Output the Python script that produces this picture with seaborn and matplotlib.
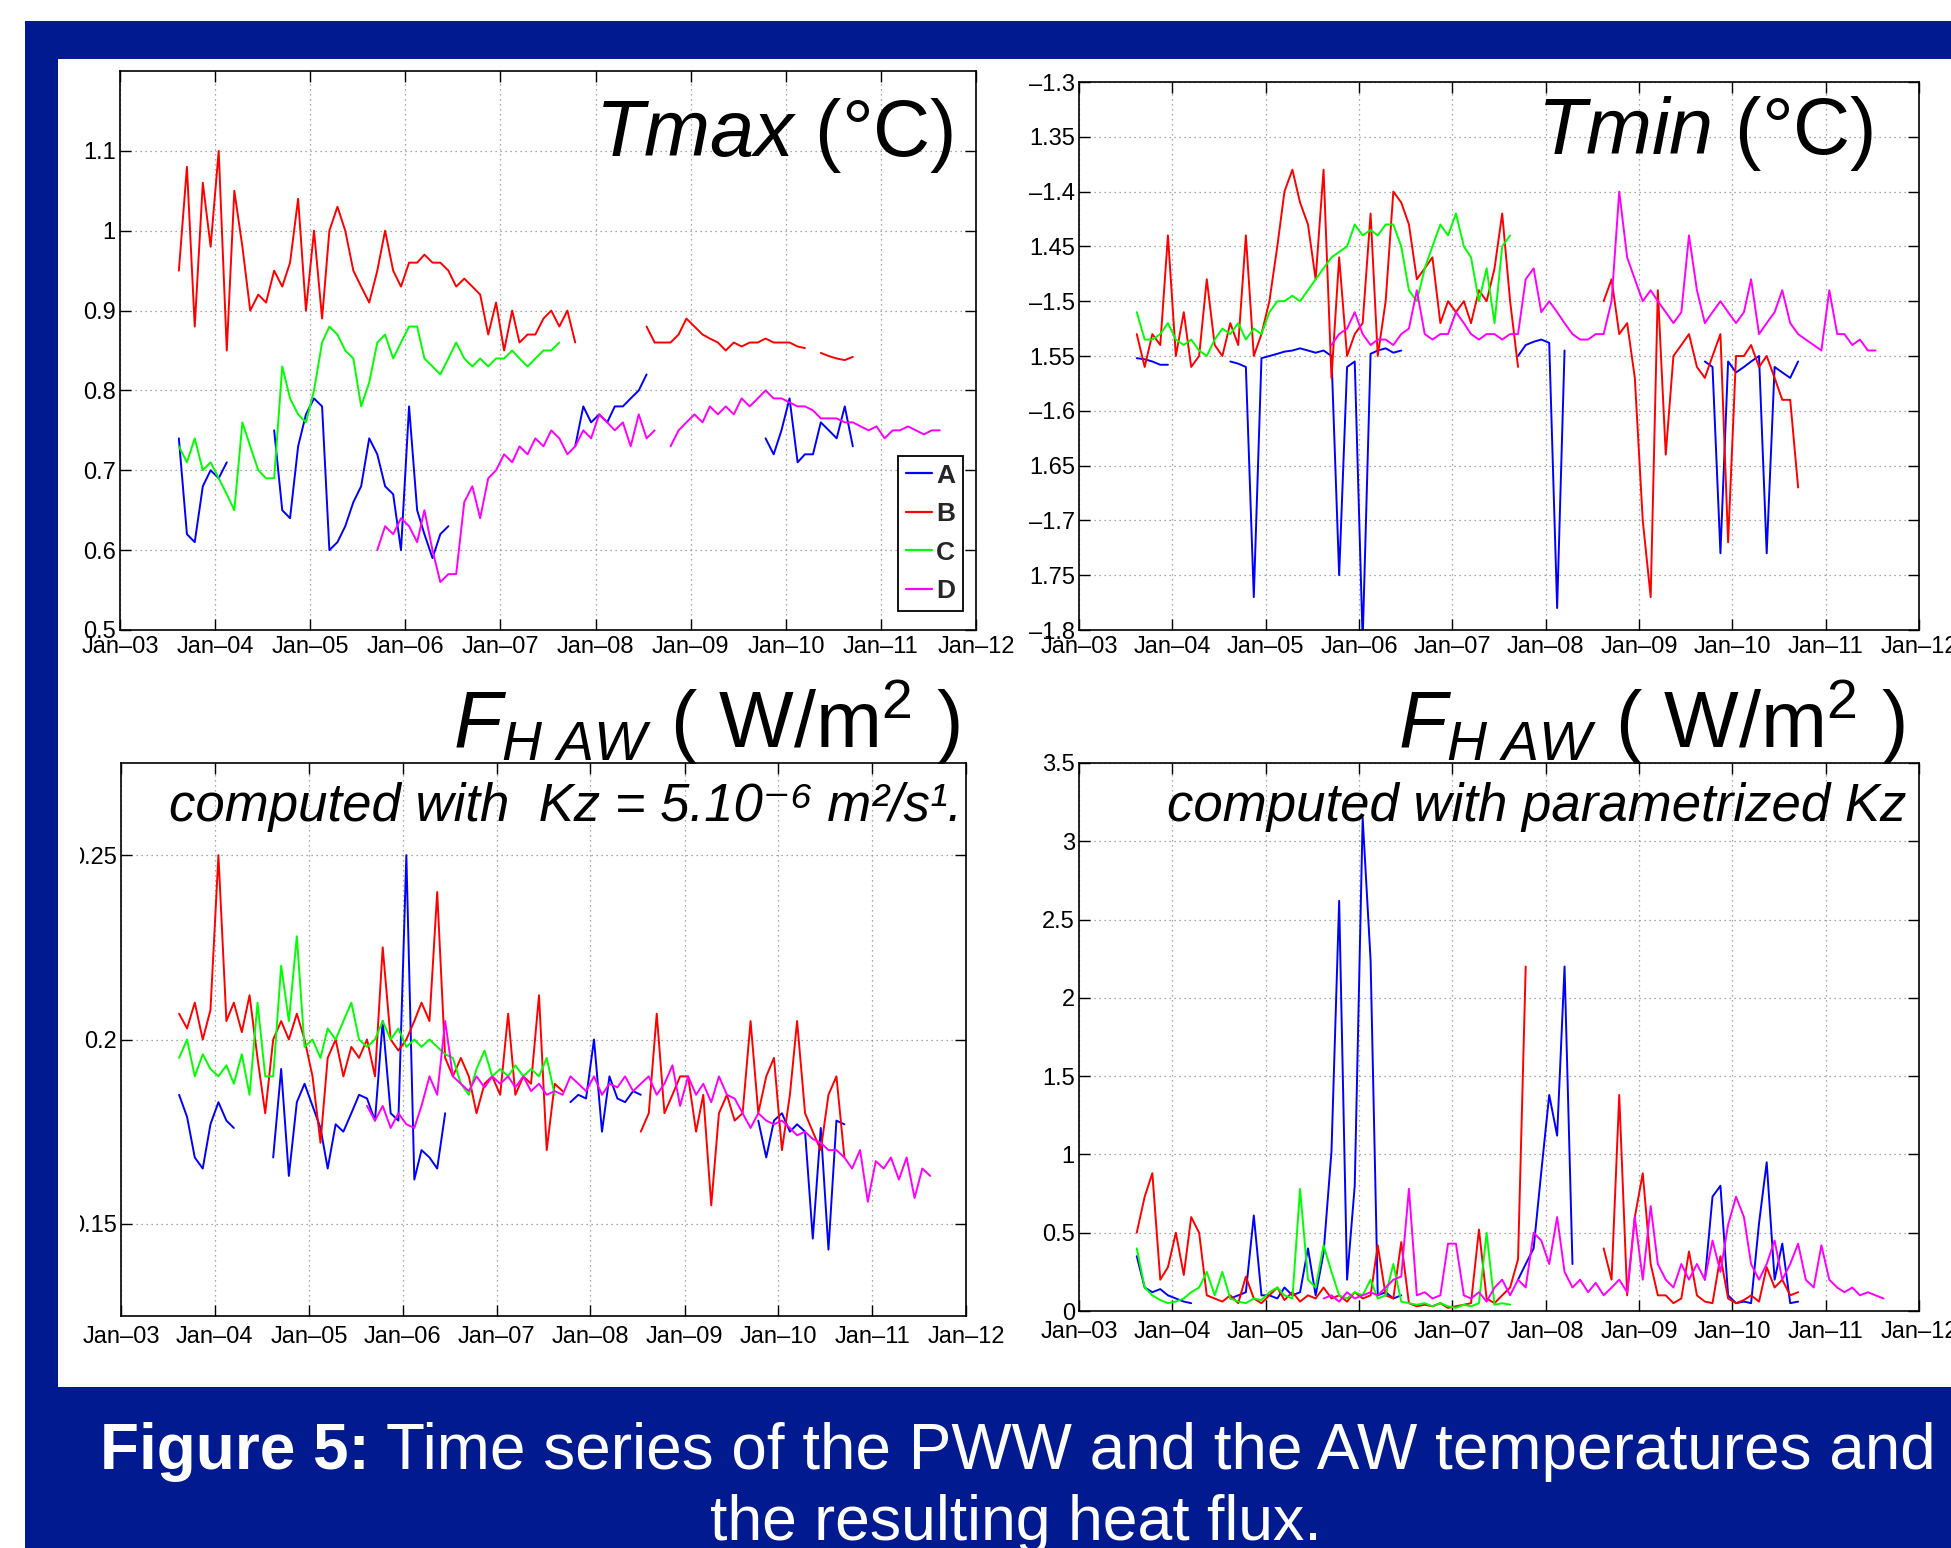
import numpy as np
import pandas as pd
import matplotlib
matplotlib.use("Agg")
import matplotlib.pyplot as plt
from matplotlib.patches import Rectangle
from matplotlib.lines import Line2D
from matplotlib.transforms import Bbox, TransformedBbox
import seaborn as sns

sns.set_theme(style="white")
plt.rcParams["font.family"] = ["Liberation Sans", "DejaVu Sans"]
plt.rcParams["mathtext.fontset"] = "custom"
plt.rcParams["mathtext.rm"] = "Liberation Sans"
plt.rcParams["mathtext.it"] = "Liberation Sans:italic"
plt.rcParams["mathtext.bf"] = "Liberation Sans:bold"
plt.rcParams["axes.unicode_minus"] = False

N = np.nan

# ---------------- data (monthly values, Aug 2003 .. Aug 2011) ----------------
stations = ["A", "B", "C", "D"]
station_colors = ["#0000ff", "#ff0000", "#00ff00", "#ff00ff"]

tmax_A = ([0.74, 0.62, 0.61, 0.68, 0.70]
          + [0.69, 0.71, N, N, N, N, N, 0.75, 0.65, 0.64, 0.73, 0.77]
          + [0.79, 0.78, 0.60, 0.61, 0.63, 0.66, 0.68, 0.74, 0.72, 0.68, 0.67, 0.60]
          + [0.78, 0.65, 0.62, 0.59, 0.62, 0.63, N, N, N, N, N, N]
          + [N] * 9 + [0.73, 0.78, 0.76]
          + [0.77, 0.76, 0.78, 0.78, 0.79, 0.80, 0.82, N, N, N, N, N]
          + [N] * 9 + [0.74, 0.72, 0.75]
          + [0.79, 0.71, 0.72, 0.72, 0.76, 0.75, 0.74, 0.78, 0.73, N, N, N]
          + [N] * 8)
tmax_B = ([0.95, 1.08, 0.88, 1.06, 0.98]
          + [1.10, 0.85, 1.05, 0.98, 0.90, 0.92, 0.91, 0.95, 0.93, 0.96, 1.04, 0.90]
          + [1.00, 0.89, 1.00, 1.03, 1.00, 0.95, 0.93, 0.91, 0.95, 1.00, 0.95, 0.93]
          + [0.96, 0.96, 0.97, 0.96, 0.96, 0.95, 0.93, 0.94, 0.93, 0.92, 0.87, 0.91]
          + [0.85, 0.90, 0.86, 0.87, 0.87, 0.89, 0.90, 0.88, 0.90, 0.86, N, N]
          + [N] * 6 + [0.88, 0.86, 0.86, 0.86, 0.87, 0.89]
          + [0.88, 0.87, 0.865, 0.86, 0.85, 0.86, 0.855, 0.86, 0.86, 0.865, 0.86, 0.86]
          + [0.86, 0.855, 0.853, N, 0.847, 0.843, 0.84, 0.838, 0.842, N, N, N]
          + [N] * 8)
tmax_C = ([0.73, 0.71, 0.74, 0.70, 0.71]
          + [0.69, 0.67, 0.65, 0.76, 0.73, 0.70, 0.69, 0.69, 0.83, 0.79, 0.77, 0.76]
          + [0.80, 0.86, 0.88, 0.87, 0.85, 0.84, 0.78, 0.81, 0.86, 0.87, 0.84, 0.86]
          + [0.88, 0.88, 0.84, 0.83, 0.82, 0.84, 0.86, 0.84, 0.83, 0.84, 0.83, 0.84]
          + [0.84, 0.85, 0.84, 0.83, 0.84, 0.85, 0.85, 0.86, N, N, N, N]
          + [N] * 36 + [N] * 8)
tmax_D = ([N] * 5 + [N] * 12
          + [N] * 8 + [0.60, 0.63, 0.62, 0.64]
          + [0.63, 0.61, 0.65, 0.60, 0.56, 0.57, 0.57, 0.66, 0.68, 0.64, 0.69, 0.70]
          + [0.72, 0.71, 0.73, 0.72, 0.74, 0.73, 0.75, 0.74, 0.72, 0.73, 0.75, 0.74]
          + [0.77, 0.76, 0.75, 0.76, 0.73, 0.77, 0.74, 0.75, N, 0.73, 0.75, 0.76]
          + [0.77, 0.76, 0.78, 0.77, 0.78, 0.77, 0.79, 0.78, 0.79, 0.80, 0.79, 0.79]
          + [0.785, 0.78, 0.78, 0.775, 0.765, 0.765, 0.765, 0.76, 0.76, 0.755, 0.75, 0.755]
          + [0.74, 0.75, 0.75, 0.755, 0.75, 0.745, 0.75, 0.75])

tmin_A = ([-1.552, -1.553, -1.555, -1.558, -1.558]
          + [N, N, N, N, N, N, N, -1.555, -1.557, -1.56, -1.77, -1.552]
          + [-1.55, -1.548, -1.546, -1.545, -1.543, -1.545, -1.547, -1.545, -1.55, -1.75, -1.56, -1.555]
          + [-1.81, -1.548, -1.545, -1.543, -1.547, -1.545, N, N, N, N, N, N]
          + [N] * 8 + [-1.55, -1.54, -1.537, -1.535]
          + [-1.538, -1.78, -1.545] + [N] * 9
          + [N] * 8 + [-1.555, -1.56, -1.73, -1.555]
          + [-1.565, -1.56, -1.555, -1.55, -1.73, -1.56, -1.565, -1.57, -1.555, N, N, N]
          + [N] * 8)
tmin_B = ([-1.53, -1.56, -1.53, -1.54, -1.44]
          + [-1.55, -1.51, -1.56, -1.55, -1.48, -1.54, -1.55, -1.52, -1.54, -1.44, -1.55, -1.53]
          + [-1.50, -1.45, -1.40, -1.38, -1.41, -1.43, -1.48, -1.38, -1.57, -1.46, -1.55, -1.53]
          + [-1.52, -1.42, -1.55, -1.50, -1.40, -1.41, -1.43, -1.48, -1.47, -1.46, -1.52, -1.50]
          + [-1.51, -1.50, -1.52, -1.49, -1.50, -1.47, -1.42, -1.50, -1.56, N, N, N]
          + [N] * 7 + [-1.50, -1.48, -1.53, -1.52, -1.57]
          + [-1.70, -1.77, -1.49, -1.64, -1.55, -1.54, -1.53, -1.56, -1.57, -1.55, -1.53, -1.72]
          + [-1.55, -1.55, -1.54, -1.56, -1.55, -1.57, -1.59, -1.59, -1.67, N, N, N]
          + [N] * 8)
tmin_C = ([-1.51, -1.535, -1.535, -1.53, -1.52]
          + [-1.535, -1.54, -1.535, -1.545, -1.55, -1.535, -1.525, -1.53, -1.52, -1.535, -1.525, -1.53]
          + [-1.51, -1.50, -1.50, -1.495, -1.50, -1.49, -1.48, -1.47, -1.46, -1.455, -1.45, -1.43]
          + [-1.44, -1.435, -1.44, -1.43, -1.43, -1.45, -1.49, -1.50, -1.47, -1.45, -1.43, -1.44]
          + [-1.42, -1.45, -1.46, -1.50, -1.47, -1.52, -1.45, -1.44, N, N, N, N]
          + [N] * 36 + [N] * 8)
tmin_D = ([N] * 5 + [N] * 12
          + [N] * 8 + [-1.54, -1.53, -1.525, -1.51]
          + [-1.53, -1.54, -1.535, -1.535, -1.54, -1.53, -1.525, -1.49, -1.53, -1.535, -1.53, -1.53]
          + [-1.51, -1.52, -1.53, -1.535, -1.53, -1.53, -1.535, -1.53, -1.53, -1.48, -1.47, -1.51]
          + [-1.50, -1.51, -1.52, -1.53, -1.535, -1.535, -1.53, -1.53, -1.50, -1.40, -1.46, -1.48]
          + [-1.50, -1.49, -1.50, -1.51, -1.52, -1.51, -1.44, -1.49, -1.52, -1.51, -1.50, -1.51]
          + [-1.52, -1.51, -1.48, -1.53, -1.52, -1.51, -1.49, -1.52, -1.53, -1.535, -1.54, -1.545]
          + [-1.49, -1.53, -1.53, -1.54, -1.535, -1.545, -1.545, N])

fconst_A = ([0.185, 0.179, 0.168, 0.165, 0.177]
            + [0.183, 0.178, 0.176, N, N, N, N, 0.168, 0.192, 0.163, 0.183, 0.188]
            + [0.182, 0.176, 0.165, 0.177, 0.175, 0.180, 0.185, 0.184, 0.178, 0.205, 0.180, 0.178]
            + [0.250, 0.162, 0.170, 0.168, 0.165, 0.180] + [N] * 6
            + [N] * 9 + [0.183, 0.185, 0.184]
            + [0.200, 0.175, 0.190, 0.184, 0.183, 0.186, 0.185] + [N] * 5
            + [N] * 9 + [0.178, 0.168, 0.178]
            + [0.180, 0.175, 0.177, 0.175, 0.146, 0.176, 0.143, 0.178, 0.177, N, N, N]
            + [N] * 8)
fconst_B = ([0.207, 0.203, 0.210, 0.200, 0.208]
            + [0.250, 0.205, 0.210, 0.202, 0.212, 0.195, 0.180, 0.200, 0.205, 0.200, 0.207, 0.200]
            + [0.190, 0.172, 0.195, 0.200, 0.190, 0.198, 0.195, 0.200, 0.190, 0.225, 0.200, 0.197]
            + [0.200, 0.205, 0.210, 0.205, 0.240, 0.195, 0.190, 0.195, 0.190, 0.180, 0.188, 0.190]
            + [0.185, 0.207, 0.185, 0.190, 0.188, 0.212, 0.170, 0.188, 0.186, N, N, N]
            + [N] * 6 + [0.175, 0.180, 0.207, 0.180, 0.185, 0.190]
            + [0.190, 0.175, 0.185, 0.155, 0.180, 0.185, 0.178, 0.180, 0.205, 0.180, 0.190, 0.195]
            + [0.170, 0.185, 0.205, 0.180, 0.175, 0.170, 0.185, 0.190, 0.168, N, N, N]
            + [N] * 8)
fconst_C = ([0.195, 0.200, 0.190, 0.196, 0.192]
            + [0.190, 0.193, 0.188, 0.196, 0.185, 0.210, 0.190, 0.190, 0.220, 0.205, 0.228, 0.198]
            + [0.200, 0.195, 0.203, 0.200, 0.205, 0.210, 0.200, 0.198, 0.200, 0.205, 0.200, 0.203]
            + [0.198, 0.200, 0.198, 0.200, 0.198, 0.196, 0.195, 0.188, 0.185, 0.192, 0.197, 0.190]
            + [0.192, 0.190, 0.193, 0.190, 0.192, 0.190, 0.195, 0.185, N, N, N, N]
            + [N] * 36 + [N] * 8)
fconst_D = ([N] * 5 + [N] * 12
            + [N] * 7 + [0.182, 0.178, 0.182, 0.176, 0.180]
            + [0.177, 0.176, 0.182, 0.190, 0.185, 0.205, 0.190, 0.188, 0.186, 0.190, 0.187, 0.190]
            + [0.188, 0.190, 0.187, 0.190, 0.186, 0.188, 0.185, 0.186, 0.185, 0.190, 0.188, 0.186]
            + [0.190, 0.185, 0.188, 0.187, 0.190, 0.186, 0.188, 0.190, 0.185, 0.188, 0.193, 0.182]
            + [0.190, 0.185, 0.188, 0.183, 0.190, 0.185, 0.184, 0.180, 0.176, 0.180, 0.178, 0.177]
            + [0.178, 0.176, 0.174, 0.175, 0.173, 0.172, 0.170, 0.170, 0.168, 0.165, 0.170, 0.156]
            + [0.167, 0.165, 0.168, 0.162, 0.168, 0.157, 0.165, 0.163])

fparam_A = ([0.35, 0.15, 0.12, 0.14, 0.10]
            + [0.08, 0.06, 0.05, N, N, N, N, 0.08, 0.10, 0.12, 0.61, 0.10]
            + [0.10, 0.08, 0.15, 0.10, 0.12, 0.40, 0.10, 0.37, 1.02, 2.62, 0.20, 0.80]
            + [3.15, 2.24, 0.10, 0.12, 0.08, 0.10] + [N] * 6
            + [N] * 8 + [0.20, 0.30, 0.40, 0.89]
            + [1.38, 1.12, 2.20, 0.30] + [N] * 8
            + [N] * 8 + [0.20, 0.73, 0.80, 0.10]
            + [0.05, 0.06, 0.05, 0.56, 0.95, 0.20, 0.43, 0.05, 0.06, N, N, N]
            + [N] * 8)
fparam_B = ([0.50, 0.73, 0.88, 0.20, 0.28]
            + [0.50, 0.23, 0.60, 0.50, 0.10, 0.08, 0.06, 0.10, 0.05, 0.22, 0.08, 0.05]
            + [0.10, 0.15, 0.07, 0.12, 0.06, 0.10, 0.08, 0.15, 0.08, 0.10, 0.06, 0.12]
            + [0.08, 0.10, 0.42, 0.10, 0.08, 0.44, 0.05, 0.03, 0.04, 0.03, 0.05, 0.02]
            + [0.03, 0.04, 0.05, 0.52, 0.08, 0.05, 0.10, 0.15, 0.33, 2.20, N, N]
            + [N] * 7 + [0.40, 0.20, 1.38, 0.10, 0.60]
            + [0.88, 0.30, 0.10, 0.10, 0.05, 0.08, 0.38, 0.10, 0.06, 0.05, 0.35, 0.08]
            + [0.05, 0.07, 0.10, 0.06, 0.28, 0.15, 0.20, 0.10, 0.12, N, N, N]
            + [N] * 8)
fparam_C = ([0.40, 0.15, 0.10, 0.07, 0.05]
            + [0.06, 0.08, 0.12, 0.15, 0.25, 0.10, 0.25, 0.08, 0.06, 0.05, 0.08, 0.07]
            + [0.12, 0.15, 0.10, 0.08, 0.78, 0.20, 0.15, 0.42, 0.25, 0.10, 0.08, 0.12]
            + [0.10, 0.20, 0.08, 0.10, 0.30, 0.06, 0.05, 0.04, 0.05, 0.03, 0.05, 0.03]
            + [0.02, 0.04, 0.03, 0.05, 0.50, 0.04, 0.05, 0.04, N, N, N, N]
            + [N] * 36 + [N] * 8)
fparam_D = ([N] * 5 + [N] * 12
            + [N] * 7 + [0.08, 0.10, 0.06, 0.12, 0.08]
            + [0.10, 0.12, 0.10, 0.15, 0.20, 0.22, 0.78, 0.10, 0.12, 0.08, 0.10, 0.43]
            + [0.43, 0.10, 0.08, 0.12, 0.06, 0.15, 0.20, 0.10, 0.20, 0.15, 0.50, 0.45]
            + [0.30, 0.60, 0.25, 0.15, 0.20, 0.12, 0.18, 0.10, 0.15, 0.20, 0.12, 0.60]
            + [0.20, 0.67, 0.30, 0.20, 0.15, 0.30, 0.20, 0.30, 0.20, 0.45, 0.25, 0.55]
            + [0.73, 0.60, 0.30, 0.20, 0.30, 0.45, 0.20, 0.30, 0.43, 0.20, 0.15, 0.42]
            + [0.20, 0.15, 0.12, 0.15, 0.10, 0.12, 0.10, 0.08])

tmax_yticks = [0.5, 0.6, 0.7, 0.8, 0.9, 1.0, 1.1]
tmax_ylabels = ["0.5", "0.6", "0.7", "0.8", "0.9", "1", "1.1"]
tmin_yticks = [-1.8, -1.75, -1.7, -1.65, -1.6, -1.55, -1.5, -1.45, -1.4, -1.35, -1.3]
tmin_ylabels = ["\u20131.8", "1.75", "\u20131.7", "1.65", "\u20131.6", "1.55",
                "\u20131.5", "1.45", "\u20131.4", "1.35", "\u20131.3"]
fconst_yticks = [0.15, 0.2, 0.25]
fconst_ylabels = ["0.15", "0.2", "0.25"]
fparam_yticks = [0, 0.5, 1, 1.5, 2, 2.5, 3, 3.5]
fparam_ylabels = ["0", "0.5", "1", "1.5", "2", "2.5", "3", "3.5"]
year_ticks = pd.date_range("2003-01-01", "2012-01-01", freq="YS")
year_labels = ["Jan\u2013%02d" % (y % 100) for y in year_ticks.year]

months = pd.date_range("2003-08-01", "2011-08-01", freq="MS") + pd.Timedelta(days=14)

# ---------------- figure ----------------
W, H = 1951, 1548
fig = plt.figure(figsize=(W / 100, H / 100), dpi=100)
fig.patch.set_facecolor("white")
navy = "#021a90"
fig.add_artist(Rectangle((25 / W, 0), 1, 1 - 21 / H, transform=fig.transFigure,
                         facecolor=navy, edgecolor="none", zorder=-10))
fig.add_artist(Rectangle((58 / W, 1 - 1387 / H), 1, (1387 - 59) / H, transform=fig.transFigure,
                         facecolor="white", edgecolor="none", zorder=-9))


def axes_px(l, t, r, b):
    return fig.add_axes([l / W, 1 - b / H, (r - l) / W, (b - t) / H])


def long_frame(series):
    rows = []
    for name, vals in zip(stations, series):
        v = np.array(vals, dtype=float)
        seg = np.cumsum(np.isnan(v))
        for d, val, s in zip(months, v, seg):
            if not np.isnan(val):
                rows.append((d, val, name, "%s%d" % (name, s)))
    return pd.DataFrame(rows, columns=["date", "value", "station", "segment"])


def draw(ax, series, ylim, yticks, ylabels, xpad):
    df = long_frame(series)
    sns.lineplot(data=df, x="date", y="value", hue="station", units="segment",
                 estimator=None, hue_order=stations,
                 palette=dict(zip(stations, station_colors)),
                 legend=False, linewidth=1.4, ax=ax)
    ax.set_xlim(year_ticks[0], year_ticks[-1])
    ax.set_ylim(*ylim)
    ax.set_xticks(year_ticks)
    ax.set_xticklabels(year_labels)
    ax.set_yticks(yticks)
    ax.set_yticklabels(ylabels)
    ax.set_xlabel("")
    ax.set_ylabel("")
    ax.set_facecolor("white")
    ax.set_axisbelow(True)
    ax.grid(True, linestyle=(0, (1, 3)), color="#8c8c8c", linewidth=0.9)
    ax.tick_params(axis="both", direction="in", length=8, width=1, colors="black",
                   labelsize=17, top=True, right=True, bottom=True, left=True)
    ax.tick_params(axis="x", pad=xpad)
    ax.tick_params(axis="y", pad=3)
    for sp in ax.spines.values():
        sp.set_color("black")
        sp.set_linewidth(1.2)


ax1 = axes_px(120, 71, 976, 630)
draw(ax1, [tmax_A, tmax_B, tmax_C, tmax_D], (0.5, 1.2), tmax_yticks, tmax_ylabels, 4)
ax2 = axes_px(1079, 82, 1919, 630)
draw(ax2, [tmin_A, tmin_B, tmin_C, tmin_D], (-1.8, -1.3), tmin_yticks, tmin_ylabels, 4)
ax3 = axes_px(121, 763, 966, 1316)
draw(ax3, [fconst_A, fconst_B, fconst_C, fconst_D], (0.125, 0.275), fconst_yticks, fconst_ylabels, 7)
ax4 = axes_px(1079, 763, 1919, 1311)
draw(ax4, [fparam_A, fparam_B, fparam_C, fparam_D], (0, 3.5), fparam_yticks, fparam_ylabels, 7)

# clipped tick labels on the lower-left panel (as in the source figure)
clip = TransformedBbox(Bbox([[80 / W, 0], [1, 1]]), fig.transFigure)
for t in ax3.yaxis.get_major_ticks():
    t.label1.set_clip_box(clip)
    t.label1.set_clip_on(True)

handles = [Line2D([], [], color=c, linewidth=1.6) for c in station_colors]
leg = ax1.legend(handles, stations, loc="lower right",
                 bbox_to_anchor=(1 - 13 / 856, 19 / 559), borderaxespad=0,
                 frameon=True, fancybox=False, edgecolor="black", framealpha=1,
                 prop={"weight": "bold", "size": 19}, handlelength=1.0,
                 handletextpad=0.15, labelspacing=0.55, borderpad=0.3)
leg.get_frame().set_linewidth(1.3)

# titles
fig.text(953 / W, 1 - 156 / H, r"$\mathit{Tmax}$ (°C)", ha="right", va="baseline",
         fontsize=57, color="black")
fig.text(1873 / W, 1 - 154 / H, r"$\mathit{Tmin}$ (°C)", ha="right", va="baseline",
         fontsize=57, color="black")
fig.text(960 / W, 1 - 748 / H, r"$\mathit{F}_{\mathit{H\ AW}}$ ( W/m$^{2}$ )", ha="right",
         va="baseline", fontsize=57, color="black")
fig.text(1905 / W, 1 - 748 / H, r"$\mathit{F}_{\mathit{H\ AW}}$ ( W/m$^{2}$ )", ha="right",
         va="baseline", fontsize=57, color="black")
fig.text(962 / W, 1 - 821 / H, "computed with  Kz = 5.10\u207b\u2076 m\u00b2/s\u00b9.",
         style="italic", ha="right", va="baseline", fontsize=38, color="black")
fig.text(1906 / W, 1 - 821 / H, "computed with parametrized Kz", style="italic",
         ha="right", va="baseline", fontsize=38, color="black")

# caption
cap1 = fig.text(100 / W, 1 - 1469 / H, "Figure 5:", weight="bold",
                ha="left", va="baseline", fontsize=46, color="white")
ax1.annotate("Time series of the PWW and the AW temperatures and",
             xy=(1, 0), xycoords=cap1, xytext=(12, 0), textcoords="offset points",
             ha="left", va="bottom", fontsize=46, color="white", annotation_clip=False)
fig.text(1016 / W, 1 - 1540 / H, "the resulting heat flux.",
         ha="center", va="baseline", fontsize=45, color="white")

fig.savefig("out.png", dpi=100, facecolor="white")
